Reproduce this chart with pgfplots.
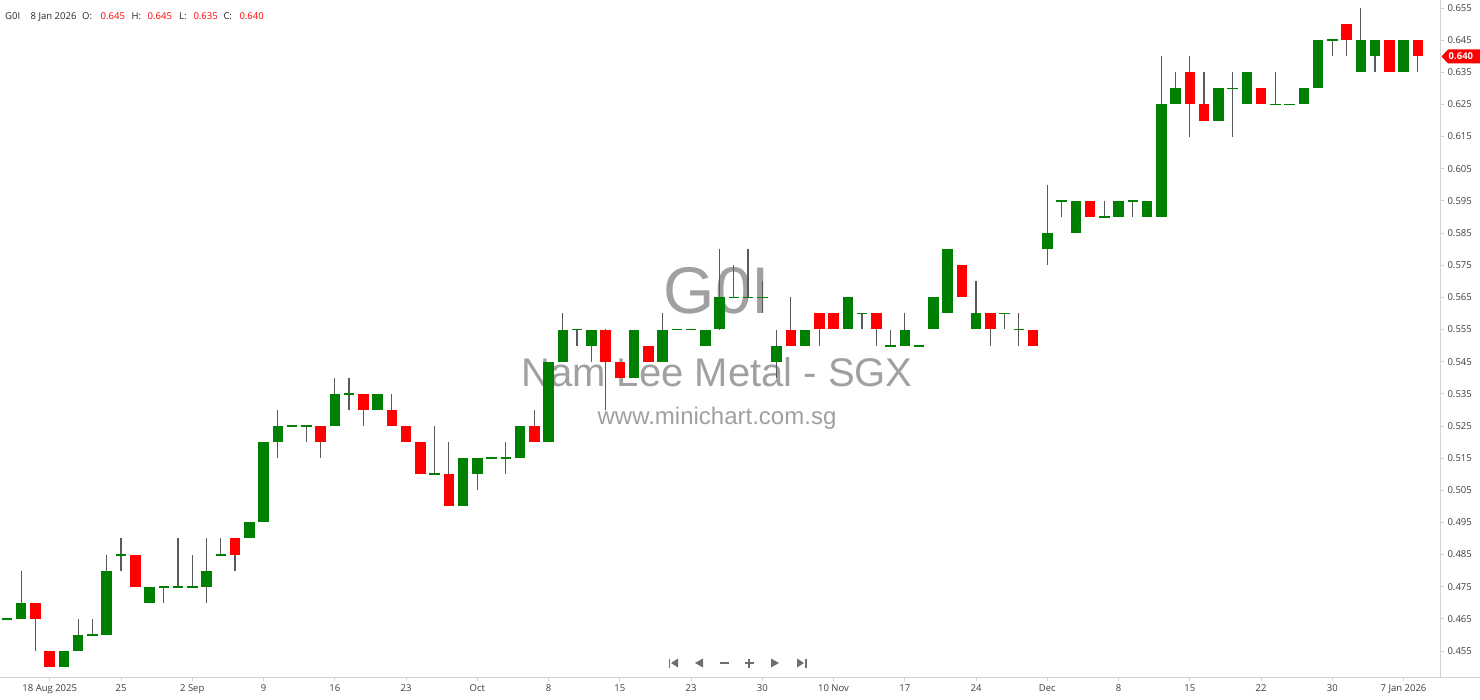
\documentclass[border=0pt]{standalone}
\usepackage{pgfplots}
\pgfplotsset{compat=1.18}
\usepackage{pgfplotstable}
\usepackage{fontspec}
\setmainfont{Open Sans}
\newfontfamily\wmfont{Liberation Sans}
\definecolor{upg}{RGB}{0,128,0}
\definecolor{dnr}{RGB}{255,0,0}
\definecolor{wick}{RGB}{90,90,90}
\definecolor{wm}{RGB}{160,160,160}
\definecolor{lbl}{RGB}{60,60,60}
\definecolor{axl}{RGB}{210,210,210}
\definecolor{nav}{RGB}{110,110,110}

% up candles (close >= open), columns: index open high low close
\pgfplotstableread{
i O H L C
0 0.465 0.465 0.465 0.465
1 0.465 0.480 0.465 0.470
4 0.450 0.455 0.450 0.455
5 0.455 0.465 0.455 0.460
6 0.460 0.465 0.460 0.460
7 0.460 0.485 0.460 0.480
8 0.485 0.490 0.480 0.485
10 0.470 0.475 0.470 0.475
11 0.475 0.475 0.470 0.475
12 0.475 0.490 0.475 0.475
13 0.475 0.485 0.475 0.475
14 0.475 0.490 0.470 0.480
15 0.485 0.490 0.485 0.485
17 0.490 0.495 0.490 0.495
18 0.495 0.520 0.495 0.520
19 0.520 0.530 0.515 0.525
20 0.525 0.525 0.525 0.525
21 0.525 0.525 0.520 0.525
23 0.525 0.540 0.525 0.535
24 0.535 0.540 0.530 0.535
26 0.530 0.535 0.530 0.535
30 0.510 0.525 0.510 0.510
32 0.500 0.515 0.500 0.515
33 0.510 0.515 0.505 0.515
34 0.515 0.515 0.515 0.515
35 0.515 0.520 0.510 0.515
36 0.515 0.525 0.515 0.525
38 0.520 0.545 0.520 0.545
39 0.545 0.560 0.545 0.555
40 0.555 0.555 0.550 0.555
41 0.550 0.555 0.545 0.555
44 0.540 0.555 0.540 0.555
46 0.545 0.560 0.545 0.555
47 0.555 0.555 0.555 0.555
48 0.555 0.555 0.555 0.555
49 0.550 0.555 0.550 0.555
50 0.555 0.580 0.555 0.565
51 0.565 0.575 0.565 0.565
52 0.565 0.580 0.565 0.565
53 0.565 0.570 0.560 0.565
54 0.545 0.555 0.540 0.550
56 0.550 0.555 0.550 0.555
59 0.555 0.565 0.555 0.565
60 0.560 0.560 0.555 0.560
62 0.550 0.555 0.550 0.550
63 0.550 0.560 0.550 0.555
64 0.550 0.550 0.550 0.550
65 0.555 0.565 0.555 0.565
66 0.560 0.580 0.560 0.580
68 0.555 0.570 0.555 0.560
70 0.560 0.560 0.555 0.560
71 0.555 0.560 0.550 0.555
73 0.580 0.600 0.575 0.585
74 0.595 0.595 0.590 0.595
75 0.585 0.595 0.585 0.595
77 0.590 0.595 0.590 0.590
78 0.590 0.595 0.590 0.595
79 0.595 0.595 0.590 0.595
80 0.590 0.595 0.590 0.595
81 0.590 0.640 0.590 0.625
82 0.625 0.635 0.625 0.630
85 0.620 0.630 0.620 0.630
86 0.630 0.635 0.615 0.630
87 0.625 0.635 0.625 0.635
89 0.625 0.635 0.625 0.625
90 0.625 0.625 0.625 0.625
91 0.625 0.630 0.625 0.630
92 0.630 0.645 0.630 0.645
93 0.645 0.645 0.640 0.645
95 0.635 0.655 0.635 0.645
96 0.640 0.645 0.635 0.645
98 0.635 0.645 0.635 0.645
}\up

% down candles (close < open)
\pgfplotstableread{
i O H L C
2 0.470 0.470 0.455 0.465
3 0.455 0.455 0.450 0.450
9 0.485 0.485 0.475 0.475
16 0.490 0.490 0.480 0.485
22 0.525 0.525 0.515 0.520
25 0.535 0.535 0.525 0.530
27 0.530 0.535 0.525 0.525
28 0.525 0.525 0.520 0.520
29 0.520 0.520 0.510 0.510
31 0.510 0.520 0.500 0.500
37 0.525 0.530 0.520 0.520
42 0.555 0.555 0.530 0.545
43 0.545 0.545 0.540 0.540
45 0.550 0.550 0.545 0.545
55 0.555 0.565 0.550 0.550
57 0.560 0.560 0.550 0.555
58 0.560 0.560 0.555 0.555
61 0.560 0.560 0.550 0.555
67 0.575 0.575 0.565 0.565
69 0.560 0.560 0.550 0.555
72 0.555 0.555 0.550 0.550
76 0.595 0.595 0.590 0.590
83 0.635 0.640 0.615 0.625
84 0.625 0.635 0.620 0.620
88 0.630 0.630 0.625 0.625
94 0.650 0.650 0.640 0.645
97 0.645 0.645 0.635 0.635
99 0.645 0.645 0.635 0.640
}\dn

\begin{document}
\begin{tikzpicture}[x=1pt,y=1pt]
% watermark (behind candles)
\node[text=wm, font=\wmfont\fontsize{66}{66}\selectfont, inner sep=0pt] at (717,386) {G0I};
\node[text=wm, font=\wmfont\fontsize{40}{40}\selectfont, inner sep=0pt] at (717,305) {Nam Lee Metal - SGX};
\node[text=wm, font=\wmfont\fontsize{24}{24}\selectfont, inner sep=0pt] at (717,259) {www.minichart.com.sg};

\begin{axis}[
  at={(0,0)}, anchor=south west,
  scale only axis, width=1440pt, height=677pt,
  xmin=-0.491, xmax=100.56, ymin=0.44691, ymax=0.65749,
  axis x line*=bottom, axis y line*=right,
  axis line style={draw=axl, line width=1pt},
  tick align=outside, major tick length=4pt,
  tick style={draw=axl, line width=0.8pt},
  xtick={3,8,...,98},
  xticklabels={18 Aug 2025,25,2 Sep,9,16,23,Oct,8,15,23,30,10 Nov,17,24,Dec,8,15,22,30,7 Jan 2026},
  ytick={0.455,0.465,0.475,0.485,0.495,0.505,0.515,0.525,0.535,0.545,0.555,0.565,0.575,0.585,0.595,0.605,0.615,0.625,0.635,0.645,0.655},
  yticklabels={0.455,0.465,0.475,0.485,0.495,0.505,0.515,0.525,0.535,0.545,0.555,0.565,0.575,0.585,0.595,0.605,0.615,0.625,0.635,0.645,0.655},
  ticklabel style={font=\fontsize{9.5}{10}\selectfont, text=lbl},
  clip=true,
  candle/.style={draw=none, mark=none, forget plot,
    error bars/.cd, y dir=both, y explicit, error mark=none},
]
% wicks
\addplot[candle, error bar style={draw=wick, line width=1.3pt}]
  table[x=i, y expr={(\thisrow{H}+\thisrow{L})/2}, y error expr={(\thisrow{H}-\thisrow{L})/2}] {\up};
\addplot[candle, error bar style={draw=wick, line width=1.3pt}]
  table[x=i, y expr={(\thisrow{H}+\thisrow{L})/2}, y error expr={(\thisrow{H}-\thisrow{L})/2}] {\dn};
% bodies
\addplot[candle, error bar style={draw=upg, line width=10.5pt}]
  table[x=i, y expr={(\thisrow{O}+\thisrow{C})/2}, y error expr={max(abs(\thisrow{C}-\thisrow{O})/2,0.00025)}] {\up};
\addplot[candle, error bar style={draw=dnr, line width=10.5pt}]
  table[x=i, y expr={(\thisrow{O}+\thisrow{C})/2}, y error expr={max(abs(\thisrow{C}-\thisrow{O})/2,0.00025)}] {\dn};
\end{axis}

% bottom line across full width
\draw[axl, line width=1pt] (1440,0) -- (1480,0);

% header
\begin{scope}[every node/.style={anchor=base west, inner sep=0pt, font=\fontsize{9.5}{10}\selectfont}]
\node[text=black!85] at (5,657.7) {G0I};
\node[text=black!85] at (30.5,657.7) {8 Jan 2026};
\node[text=black!85] at (82,657.7) {O:};
\node[text=dnr] at (100.5,657.7) {0.645};
\node[text=black!85] at (131.5,657.7) {H:};
\node[text=dnr] at (147.5,657.7) {0.645};
\node[text=black!85] at (179,657.7) {L:};
\node[text=dnr] at (193.3,657.7) {0.635};
\node[text=black!85] at (223.3,657.7) {C:};
\node[text=dnr] at (239.3,657.7) {0.640};
\end{scope}

% last price tag
\fill[dnr] (1441.5,620.5) -- (1448,627.5) -- (1480,627.5) -- (1480,613.5) -- (1448,613.5) -- cycle;
\node[text=white, font=\fontsize{9.5}{10}\selectfont\bfseries, anchor=west, inner sep=0pt] at (1448.5,620.5) {0.640};

% navigation icons
\begin{scope}[fill=nav]
\fill (668.5,9.5) rectangle (670.3,18.5);
\fill (671,14) -- (678,9.5) -- (678,18.5) -- cycle;
\fill (695,14) -- (703,9.5) -- (703,18.5) -- cycle;
\fill (719.5,13.1) rectangle (728.5,14.9);
\fill (744.5,13.1) rectangle (753.5,14.9);
\fill (748.1,9.5) rectangle (749.9,18.5);
\fill (779,14) -- (771,9.5) -- (771,18.5) -- cycle;
\fill (804,14) -- (797,9.5) -- (797,18.5) -- cycle;
\fill (804.7,9.5) rectangle (806.5,18.5);
\end{scope}

\pgfresetboundingbox
\path[use as bounding box] (0,-22) rectangle (1480,677);
\end{tikzpicture}
\end{document}
